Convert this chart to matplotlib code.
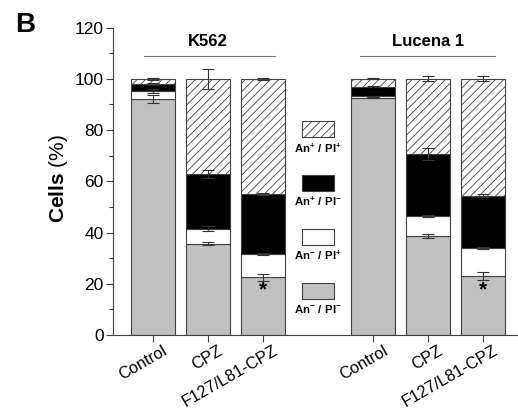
import matplotlib
matplotlib.use("Agg")
import matplotlib.pyplot as plt
import numpy as np
from matplotlib.patches import Rectangle
from matplotlib.transforms import ScaledTranslation, blended_transform_factory

plt.rcParams['font.family'] = ['Liberation Sans', 'DejaVu Sans']
plt.rcParams['mathtext.fontset'] = 'custom'
plt.rcParams['mathtext.rm'] = 'Liberation Sans'
plt.rcParams['mathtext.bf'] = 'Liberation Sans:bold'
plt.rcParams['hatch.linewidth'] = 0.6

# ---- data ----
categories = ["Control", "CPZ", "F127/L81-CPZ", "Control", "CPZ", "F127/L81-CPZ"]
positions = [0, 1, 2, 4, 5, 6]
groups = ["K562", "Lucena 1"]
group_centers = [1, 5]

# segment percentages (bottom to top)
an_neg_pi_neg = [92.1, 35.6, 22.5, 92.7, 38.8, 23.0]
an_neg_pi_pos = [3.3, 5.8, 9.2, 0.5, 7.6, 10.9]
an_pos_pi_neg = [2.6, 21.5, 23.4, 3.8, 24.3, 20.5]
an_pos_pi_pos = [2.0, 37.1, 44.9, 3.0, 29.3, 45.6]

# standard deviations (drawn at top of each segment)
err_neg_neg = [1.5, 0.5, 1.3, 0.3, 0.8, 1.7]
err_neg_pos = [0.8, 1.0, 0.3, 0.2, 0.5, 0.3]
err_pos_neg = [0.5, 1.5, 0.3, 0.2, 2.2, 0.5]
err_pos_pos = [0.3, 3.8, 0.3, 0.2, 1.0, 1.0]

legend_labels = [r"$\mathbf{An^{+}\ /\ PI^{+}}$", r"$\mathbf{An^{+}\ /\ PI^{-}}$",
                 r"$\mathbf{An^{-}\ /\ PI^{+}}$", r"$\mathbf{An^{-}\ /\ PI^{-}}$"]
significant = [2, 6]

# ---- figure ----
fig = plt.figure(figsize=(5.18, 4.12), dpi=100)
ax = fig.add_axes([0.219, 0.187, 0.781, 0.746])

edge = '#404040'
w = 0.8
seg_vals = [an_neg_pi_neg, an_neg_pi_pos, an_pos_pi_neg, an_pos_pi_pos]
seg_errs = [err_neg_neg, err_neg_pos, err_pos_neg, err_pos_pos]
seg_face = ['#c0c0c0', 'white', 'black', 'white']
seg_hatch = [None, None, None, '////']

bottom = np.zeros(len(positions))
tops = []
for vals, fc, h in zip(seg_vals, seg_face, seg_hatch):
    vals = np.array(vals)
    ax.bar(positions, vals, w, bottom=bottom, color=fc, edgecolor=edge,
           linewidth=0.8, hatch=h, zorder=2)
    bottom = bottom + vals
    tops.append(bottom.copy())

for t, e in zip(tops, seg_errs):
    ax.errorbar(positions, t, yerr=e, fmt='none', ecolor='#333333',
                elinewidth=0.8, capsize=4, capthick=0.8, zorder=3)

for p in significant:
    ax.text(p, 17.5, '*', ha='center', va='center', fontsize=15,
            fontweight='bold', zorder=4)

# legend drawn inside the gap
leg_faces = ['white', 'black', 'white', '#c0c0c0']
leg_hatch = ['////', None, None, None]
leg_box_y = [77.2, 56.2, 35.2, 14.1]
leg_txt_y = [73.0, 52.1, 30.9, 10.0]
for fc, h, by, ty, lab in zip(leg_faces, leg_hatch, leg_box_y, leg_txt_y, legend_labels):
    ax.add_patch(Rectangle((3 - 0.29, by), 0.58, 6.2, facecolor=fc,
                           edgecolor=edge, linewidth=0.8, hatch=h, zorder=2))
    ax.text(3, ty, lab, ha='center', va='center', fontsize=8.2)

# group labels and lines
group_spans = [(-0.16, 2.22), (3.77, 6.22)]
for g, c, (a, b) in zip(groups, group_centers, group_spans):
    ax.plot([a, b], [109, 109], color='#777777', lw=0.8, clip_on=False)
    ax.text(c, 114.5, g, ha='center', va='center', fontsize=12,
            fontweight='bold')

ax.set_xlim(-0.71, 6.64)
ax.set_ylim(0, 120)
ax.set_yticks(np.arange(0, 121, 20))
ax.set_yticks(np.arange(0, 121, 10), minor=True)
ax.set_xticks(positions)
ax.set_xticklabels([])

# rotated category labels
trans = blended_transform_factory(ax.transData, ax.transAxes) + \
    ScaledTranslation(0.10, -0.08, fig.dpi_scale_trans)
for p, c in zip(positions, categories):
    ax.text(p, 0, c, transform=trans, rotation=30, ha='right', va='top',
            rotation_mode='anchor', fontsize=11.8, clip_on=False)

ax.tick_params(axis='y', which='major', direction='out', length=5,
               width=0.8, labelsize=12.5, color=edge, pad=2)
ax.tick_params(axis='y', which='minor', direction='out', length=3,
               width=0.8, color=edge)
ax.tick_params(axis='x', direction='out', length=5, width=0.8, color=edge)

for s in ['top', 'right']:
    ax.spines[s].set_visible(False)
for s in ['left', 'bottom']:
    ax.spines[s].set_color(edge)
    ax.spines[s].set_linewidth(0.8)

fig.text(58 / 518, 0.566, r"$\mathbf{Cells}$ (%)", rotation=90,
         ha='center', va='center', fontsize=15)
fig.text(25 / 518, 1 - 25 / 412, 'B', ha='center', va='center',
         fontsize=20, fontweight='bold')

fig.savefig('out.png', dpi=100)
